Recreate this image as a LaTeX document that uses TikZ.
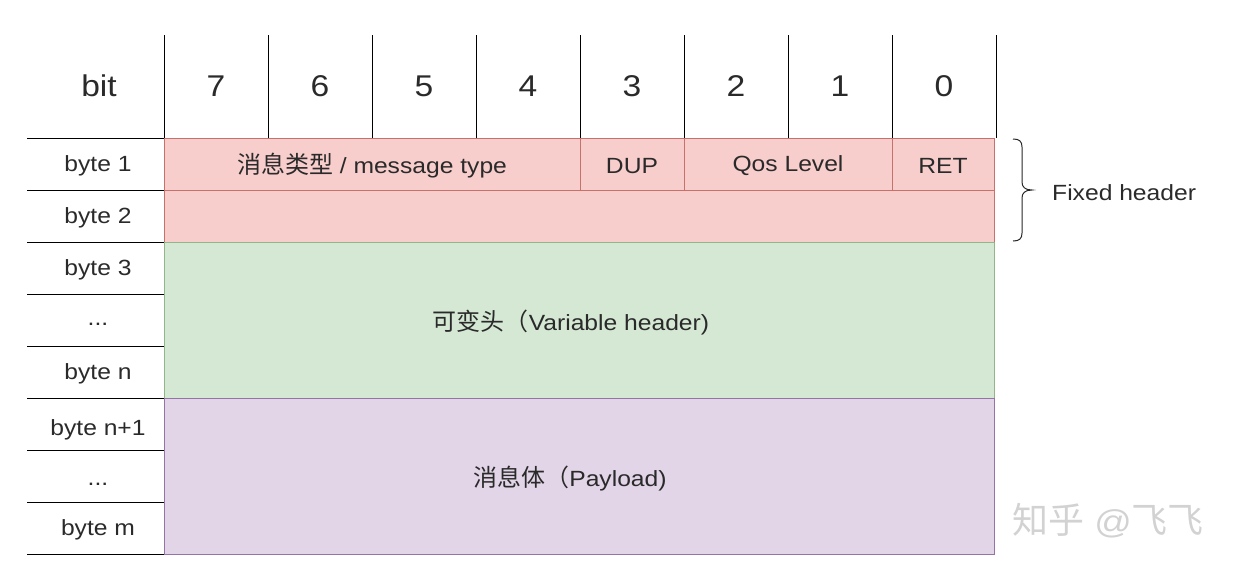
\documentclass[tikz,border=0pt]{standalone}
\usepackage{fontspec}
\setmainfont{Liberation Sans}[FakeStretch=1.12]
\newfontfamily\cjk{Noto Sans CJK SC}[Scale=1.09]
\definecolor{redfill}{HTML}{F8CECC}
\definecolor{redline}{HTML}{C8706C}
\definecolor{greenfill}{HTML}{D5E8D4}
\definecolor{greenline}{HTML}{92B58A}
\definecolor{purplefill}{HTML}{E1D5E7}
\definecolor{purpleline}{HTML}{9673A6}
\definecolor{txt}{HTML}{2A2A2A}
\definecolor{wm}{HTML}{D2D2D2}
\newcommand{\bigfont}{\fontsize{30}{34}\selectfont}
\newcommand{\lblfont}{\fontsize{22}{26}\selectfont}
\begin{document}
\begin{tikzpicture}[x=1pt,y=-1pt,
  hdr/.style={inner sep=0, text=txt, font=\bigfont},
  lbl/.style={inner sep=0, text=txt, font=\lblfont, yshift=-2pt},
  redcell/.style={draw=redline, fill=redfill, line width=0.9pt, inner sep=0, minimum height=52pt},
  greencell/.style={draw=greenline, fill=greenfill, line width=0.9pt, inner sep=0},
  purplecell/.style={draw=purpleline, fill=purplefill, line width=0.9pt, inner sep=0},
  gridline/.style={draw=black, line width=1pt},
  bracestyle/.style={draw=black!85, line width=1pt}
]
\useasboundingbox (0,0) rectangle (1246,584);

% header grid
\foreach \i in {0,...,8} {
  \draw[gridline] ({164+104*\i},35) -- ({164+104*\i},138);
}
\foreach \yy in {138,190,242,294,346,398,450,502,554} {
  \draw[gridline] (27,\yy) -- (164,\yy);
}

\node[hdr] (bit) at (99,86) {bit};
\foreach \b [count=\k from 0] in {7,6,5,4,3,2,1,0} {
  \node[hdr] (b\b) at ({216+104*\k},86) {\b};
}

% row labels
\node[lbl] (r1) at (98,164) {byte 1};
\node[lbl] (r2) at (98,216) {byte 2};
\node[lbl] (r3) at (98,268) {byte 3};
\node[lbl] (r4) at (98,322) {...};
\node[lbl] (r5) at (98,372) {byte n};
\node[lbl] (r6) at (98,428) {byte n+1};
\node[lbl] (r7) at (98,482) {...};
\node[lbl] (r8) at (98,528) {byte m};

% fixed header cells
\node[redcell, minimum width=416pt] (msgtype) at (372,164) {};
\node[redcell, minimum width=104pt] (dup) at (632,164) {};
\node[redcell, minimum width=208pt] (qos) at (788,164) {};
\node[redcell, minimum width=102pt] (ret) at (943,164) {};
\node[redcell, minimum width=830pt] (byte2) at (579,216) {};
\node[lbl] (msgtypelbl) at (msgtype) {{\cjk 消息类型} / message type};
\node[lbl] (duplbl) at (dup) {DUP};
\node[lbl] (qoslbl) at (qos) {Qos Level};
\node[lbl] (retlbl) at (ret) {RET};

% variable header
\node[greencell, minimum width=830pt, minimum height=156pt] (var) at (579,320) {};
\node[lbl] (varlbl) at (571,321) {{\cjk 可变头（}Variable header)};

% payload
\node[purplecell, minimum width=830pt, minimum height=156pt] (pay) at (579,476) {};
\node[lbl] (paylbl) at (570,477) {{\cjk 消息体（}Payload)};

% brace
\draw[bracestyle] (1013,139) .. controls (1019,139) and (1022,141) .. (1022,147)
  -- (1022,182) .. controls (1022,187) and (1025,190) .. (1032,190)
  .. controls (1025,190) and (1022,193) .. (1022,198)
  -- (1022,233) .. controls (1022,239) and (1019,241) .. (1013,241);
\node[lbl, anchor=west] (fixed) at (1052,191) {Fixed header};

% watermark
\node[inner sep=0, text=wm, font=\fontsize{33}{37}\selectfont, anchor=west] (wmark) at (1012,521) {{\cjk 知乎} @{\cjk 飞飞}};
\end{tikzpicture}
\end{document}
